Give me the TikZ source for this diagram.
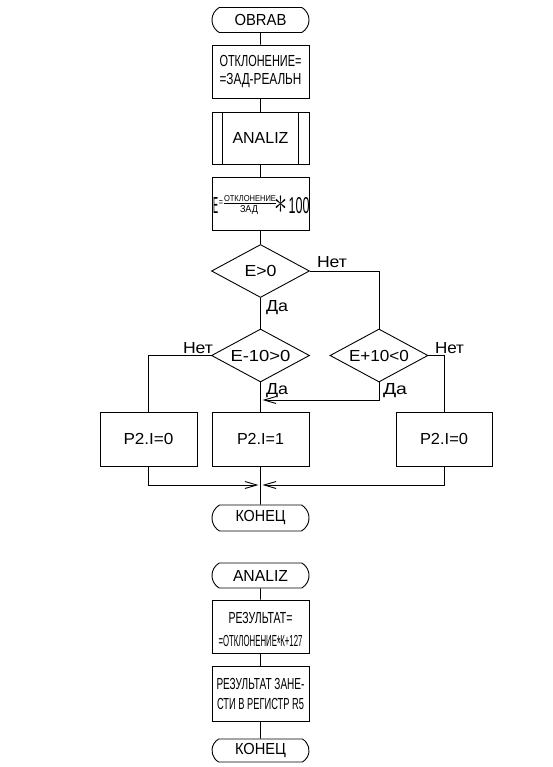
\documentclass[tikz,border=0pt]{standalone}
\usepackage{fontspec}
\setmainfont{Liberation Sans}
\usetikzlibrary{shapes.geometric,shapes.misc,arrows.meta}
\newcommand\fw[2]{\resizebox{#1}{\height}{#2}}
\newcommand\cadast{\raisebox{-5.5pt}{\scalebox{1.1}[1.4]{*}}}
\begin{document}
\begin{tikzpicture}[x=1pt,y=-1pt,
  every node/.style={inner sep=0pt, font=\fontsize{16}{18}\selectfont},
  line/.style={line width=0.9pt},
  term/.style={draw, line width=0.9pt, rounded rectangle, rounded rectangle arc length=120, minimum width=97pt, minimum height=25pt},
  proc/.style={draw, line width=0.9pt, rectangle, minimum width=97pt, minimum height=53pt, align=center},
  dec/.style={draw, line width=0.9pt, diamond, aspect=1.85, minimum width=98pt, minimum height=53pt},
  arr/.style={line width=0.9pt, -{Straight Barb[length=12pt,width=7pt]}, shorten >=2pt}
]
\useasboundingbox (0,0) rectangle (552,767);

% main program
\node[term] (t1) at (260.5,20) {\fw{52pt}{OBRAB}};
\node[proc] (b1) at (260.5,71.5) {\fw{82pt}{ОТКЛОНЕНИЕ=}\\\fw{82pt}{=ЗАД-РЕАЛЬН}};
\node[proc, minimum height=52pt] (b2) at (260.5,138) {\fw{56pt}{ANALIZ}};
\draw[line] ([xshift=11pt]b2.north west) -- ([xshift=11pt]b2.south west);
\draw[line] ([xshift=-11pt]b2.north east) -- ([xshift=-11pt]b2.south east);
\node[proc] (b3) at (260.5,203.5) {};
\node[anchor=base] (fE) at (215.5,213) {\resizebox{5pt}{16pt}{E}};
\node (feq) at (221,203) {\scalebox{0.45}[0.6]{=}};
\node[anchor=base] (fnum) at (250,201) {\resizebox{52pt}{6pt}{ОТКЛОНЕНИЕ}};
\draw[line] (224,203) -- (276,203);
\node[anchor=base] (fden) at (249,212) {\resizebox{18pt}{7pt}{ЗАД}};
\node (fast) at (280.5,205) {\scalebox{1.5}[2.2]{$\ast$}};
\node[anchor=base] (f100) at (299,213) {\resizebox{21pt}{16pt}{100}};

\node[dec] (d1) at (260.5,271) {\fw{32pt}{E>0}};
\node[dec] (d2) at (260.5,355.5) {\fw{60pt}{E-10>0}};
\node[dec] (d3) at (379,355.5) {\fw{60pt}{E+10<0}};
\node[proc, minimum height=54pt] (b4) at (148.5,439) {\fw{50pt}{P2.I=0}};
\node[proc, minimum height=54pt] (b5) at (260.5,439) {\fw{47pt}{P2.I=1}};
\node[proc, minimum height=54pt, minimum width=96pt] (b6) at (444,439) {\fw{48pt}{P2.I=0}};
\node[term, minimum height=26pt] (t2) at (260.5,518) {\fw{50pt}{КОНЕЦ}};

\coordinate (j1) at (260.5,400);
\coordinate (j2) at (260.5,485);

\draw[line] (t1) -- (b1);
\draw[line] (b1) -- (b2);
\draw[line] (b2) -- (b3);
\draw[line] (b3) -- (d1);
\draw[line] (d1) -- (d2);
\draw[line] (d2) -- (b5);
\draw[line] (b5) -- (t2);
\draw[line] (d1.east) -| (d3.north);
\draw[line] (d2.west) -| (b4.north);
\draw[line] (d3.east) -| (b6.north);
\draw[arr] (d3.south) |- (j1);
\draw[arr] (b4.south) |- (j2);
\draw[arr] (b6.south) |- (j2);

\node (l1) at (332,262.5) {\fw{30pt}{Нет}};
\node (l2) at (277,308) {\fw{22pt}{Да}};
\node (l3) at (198,348) {\fw{30pt}{Нет}};
\node (l4) at (449.5,348) {\fw{29pt}{Нет}};
\node (l5) at (277,391) {\fw{22pt}{Да}};
\node (l6) at (395,391) {\fw{24pt}{Да}};

% subroutine
\node[term] (t3) at (260.5,575.5) {\fw{55pt}{ANALIZ}};
\node[proc] (b7) at (260.5,626.5) {};
\node[anchor=base] (b7a) at (260.5,623) {\fw{64pt}{РЕЗУЛЬТАТ=}};
\node[anchor=base] (b7b) at (260.5,646) {\fw{84pt}{=ОТКЛОНЕНИЕ\cadast К+127}};
\node[proc, minimum height=55pt, font=\fontsize{16}{20}\selectfont] (b8) at (260.5,693.5) {\fw{88pt}{РЕЗУЛЬТАТ ЗАНЕ-}\\\fw{87pt}{СТИ В РЕГИСТР R5}};
\node[term, minimum height=23pt] (t4) at (260.5,750.5) {\fw{51pt}{КОНЕЦ}};
\draw[line] (t3) -- (b7);
\draw[line] (b7) -- (b8);
\draw[line] (b8) -- (t4);
\end{tikzpicture}
\end{document}
